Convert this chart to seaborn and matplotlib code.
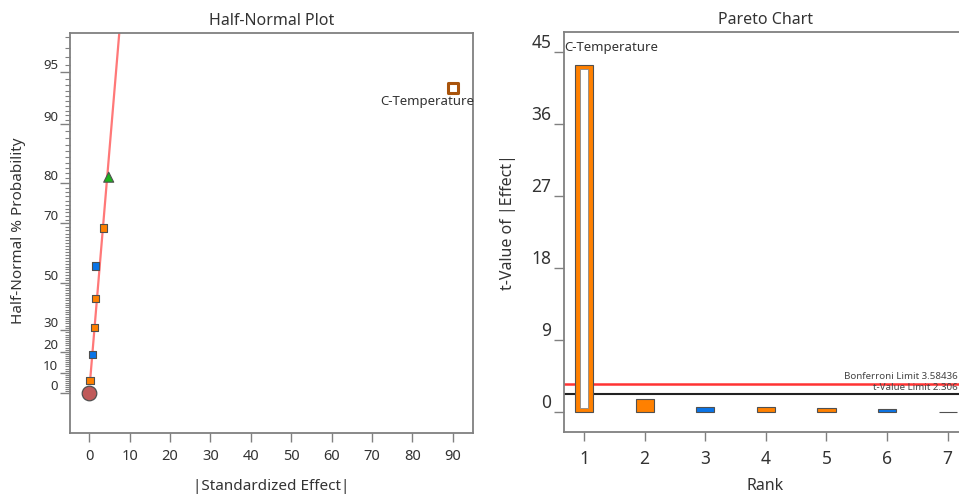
import numpy as np
import pandas as pd
import matplotlib
matplotlib.use("Agg")
import matplotlib.pyplot as plt
import matplotlib.transforms as mtransforms
from matplotlib.ticker import FixedLocator, NullFormatter
import seaborn as sns
from statistics import NormalDist

# ---------------- data ----------------
hn_effect = [0.17, 0.74, 1.24, 1.49, 1.49, 3.56, 4.8, 90.0]
hn_prob = [6.25, 18.75, 31.25, 43.75, 56.25, 68.75, 81.25, 93.75]
hn_kind = ["positive", "negative", "positive", "positive", "negative",
           "positive", "error", "selected"]
hn_selected_label = "C-Temperature"
origin_effect = [0.0]
origin_prob = [0.0]
fit_effect = [0.2, 8.45]
fit_prob = [6.25, 98.76]
prob_ticks = [0, 10, 20, 30, 50, 70, 80, 90, 95]
effect_ticks = [0, 10, 20, 30, 40, 50, 60, 70, 80, 90]

ranks = [1, 2, 3, 4, 5, 6, 7]
t_values = [43.4, 1.66, 0.70, 0.70, 0.58, 0.37, 0.08]
t_kind = ["selected", "positive", "negative", "positive", "positive",
          "negative", "positive"]
t_ticks = [0, 9, 18, 27, 36, 45]
bonferroni_limit = 3.58436
t_value_limit = 2.306

# ---------------- style ----------------
sns.set_theme(style="white")
plt.rcParams["font.family"] = ["Noto Sans", "DejaVu Sans"]
TXT = "#333333"
GRID = "#808080"
ORANGE = "#ff8000"
BLUE = "#0a74e8"
GREEN = "#1db31d"
EDGE = "#505050"
palette = {"positive": ORANGE, "negative": BLUE, "error": GREEN, "selected": ORANGE}

fig = plt.figure(figsize=(9.59, 4.94), dpi=100)
axL = fig.add_axes([0.0730, 0.1241, 0.4205, 0.8097])
axR = fig.add_axes([0.5878, 0.1249, 0.4216, 0.8103])

nd = NormalDist()
_f = np.vectorize(lambda v: nd.inv_cdf(0.5 + v / 200.0), otypes=[float])
_i = np.vectorize(lambda v: 200.0 * (nd.cdf(v) - 0.5), otypes=[float])


def fwd(p):
    p = np.clip(np.asarray(p, dtype=float), -99.9999, 99.9999)
    return _f(p)


def inv(z):
    z = np.clip(np.asarray(z, dtype=float), -8, 8)
    return _i(z)


def style_axes(ax):
    for s in ax.spines.values():
        s.set_color(GRID)
        s.set_linewidth(1.3)
        s.set_visible(True)


# ---------------- half-normal plot ----------------
axL.set_yscale("function", functions=(fwd, inv))
df = pd.DataFrame({"effect": hn_effect, "prob": hn_prob, "kind": hn_kind})
main = df[df.kind != "selected"]
sel = df[df.kind == "selected"]

axL.plot(fit_effect, fit_prob, color="#ff7878", lw=1.6, zorder=1)
sns.scatterplot(data=main, x="effect", y="prob", hue="kind", style="kind",
                palette=palette, markers={"positive": "s", "negative": "s", "error": "^"},
                size="kind", sizes={"positive": 30, "negative": 30, "error": 52},
                edgecolor=EDGE, linewidth=0.8, legend=False, ax=axL, zorder=3)
sns.scatterplot(x=origin_effect, y=origin_prob, color="#c05a5a", s=110,
                edgecolor=EDGE, linewidth=0.9, legend=False, ax=axL, zorder=3)
sns.scatterplot(data=sel, x="effect", y="prob", marker="s", s=62,
                facecolor="white", edgecolor="#a9540c", linewidth=2.2,
                legend=False, ax=axL, zorder=4)
for _, r in sel.iterrows():
    axL.annotate(hn_selected_label, xy=(r.effect, r.prob), xytext=(15, -10),
                 textcoords="offset points", ha="right", va="center",
                 fontsize=9.5, color=TXT, annotation_clip=False)

axL.set_xlim(-4.78, 95.05)
axL.set_ylim(float(inv(-0.24)), float(inv(2.199)))
axL.set_xticks(effect_ticks)
axL.yaxis.set_major_locator(FixedLocator(prob_ticks))
axL.set_yticklabels([str(t) for t in prob_ticks])
minor = list(np.arange(0, 90, 1.0)) + list(np.arange(90, 97.01, 0.5))
axL.yaxis.set_minor_locator(FixedLocator(minor))
axL.yaxis.set_minor_formatter(NullFormatter())
axL.tick_params(axis="y", which="major", length=7, width=1, color=GRID,
                labelsize=9.5, labelcolor=TXT, pad=1.5, left=True)
axL.tick_params(axis="y", which="minor", length=3.5, width=0.8, color=GRID, left=True)
axL.tick_params(axis="x", which="major", length=6.5, width=1, color=GRID,
                labelsize=10.5, labelcolor=TXT, pad=5.5, bottom=True)
for lbl in axL.get_yticklabels():
    lbl.set_va("bottom")
style_axes(axL)
axL.set_xlabel("|Standardized Effect|", fontsize=11, color=TXT)
axL.set_ylabel("Half-Normal % Probability", fontsize=11, color=TXT)
axL.xaxis.set_label_coords(0.5, -0.135)
axL.xaxis.label.set_va("center")
axL.yaxis.set_label_coords(-0.128, 0.504)
axL.yaxis.label.set_va("center")
axL.text(0.5, 1.03, "Half-Normal Plot", transform=axL.transAxes, ha="center",
         va="center", fontsize=11.5, color=TXT)

# ---------------- pareto chart ----------------
pdf = pd.DataFrame({"rank": ranks, "t": t_values, "kind": t_kind})
sns.barplot(data=pdf, x="rank", y="t", hue="kind", palette=palette, dodge=False,
            width=0.3, saturation=1, edgecolor=EDGE, linewidth=0.8, legend=False,
            ax=axR, zorder=2)
inset = 0.5
for i, k in enumerate(t_kind):
    if k == "selected":
        axR.bar(i, t_values[i] - 2 * inset, bottom=inset, width=0.144,
                color="white", edgecolor="#8a8a8a", linewidth=0.6, zorder=3)
        axR.text(i - 0.325, 45.6, hn_selected_label, ha="left", va="center",
                 fontsize=9.5, color=TXT)

axR.axhline(bonferroni_limit, color="#ff3333", lw=1.8, zorder=1)
axR.axhline(t_value_limit, color="#222222", lw=1.5, zorder=1)
# right end of the visible canvas in axes coordinates
x_edge = (1.0 - 0.5878) / 0.4216 - 0.002
trans = mtransforms.blended_transform_factory(axR.transAxes, axR.transData)
axR.text(x_edge, bonferroni_limit + 0.35, f"Bonferroni Limit {bonferroni_limit:g}",
         transform=trans, ha="right", va="bottom", fontsize=7, color="#444444")
axR.text(x_edge, t_value_limit + 0.2, f"t-Value Limit {t_value_limit:g}",
         transform=trans, ha="right", va="bottom", fontsize=7, color="#444444")

axR.set_xlim(-0.335, 6.335)
axR.set_ylim(-2.5, 47.5)
axR.set_yticks(t_ticks)
axR.tick_params(axis="y", length=7, width=1, color=GRID, labelsize=12.5,
                labelcolor=TXT, pad=2, left=True)
axR.tick_params(axis="x", length=6.5, width=1, color=GRID, labelsize=12.5,
                labelcolor=TXT, pad=6, bottom=True)
for lbl in axR.get_yticklabels():
    lbl.set_va("bottom")
style_axes(axR)
axR.set_xlabel("Rank", fontsize=11.5, color=TXT)
axR.set_ylabel("t-Value of |Effect|", fontsize=11.5, color=TXT)
axR.xaxis.set_label_coords(0.498, -0.133)
axR.xaxis.label.set_va("center")
axR.yaxis.set_label_coords(-0.138, 0.525)
axR.yaxis.label.set_va("center")
axR.text(0.5, 1.03, "Pareto Chart", transform=axR.transAxes, ha="center",
         va="center", fontsize=11.5, color=TXT)

fig.savefig("out.png", dpi=100, facecolor="white")
